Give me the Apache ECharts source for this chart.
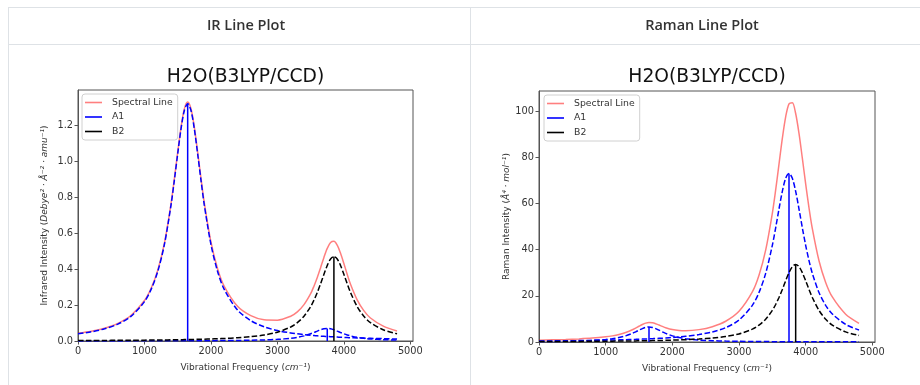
<!DOCTYPE html>
<html>
<head>
<meta charset="utf-8">
<script src="https://cdn.jsdelivr.net/npm/echarts@6/dist/echarts.min.js"></script>
<style>
  html, body { margin: 0; padding: 0; background: #fff; }
  #main { width: 920px; height: 385px; }
</style>
</head>
<body>
<div id="main"></div>
<script type="text/javascript">
    // wavenumber grid (cm^-1), denser around the bands
    var freq = [0, 200, 400, 600, 800, 1000, 1100, 1200, 1300, 1400, 1450, 1500, 1550, 1600, 1650, 1700,
        1750, 1800, 1850, 1900, 2000, 2100, 2200, 2400, 2600, 2800, 3000, 3200, 3300, 3400, 3500, 3550,
        3600, 3650, 3700, 3750, 3800, 3850, 3900, 3950, 4000, 4050, 4100, 4200, 4300, 4400, 4600, 4800];

    // IR curves
    var irSpectral = [0.043, 0.054, 0.071, 0.098, 0.143, 0.225, 0.293, 0.394, 0.544, 0.765, 0.903, 1.050,
        1.188, 1.291, 1.329, 1.292, 1.190, 1.052, 0.906, 0.769, 0.551, 0.402, 0.304, 0.193, 0.141, 0.118,
        0.116, 0.138, 0.162, 0.202, 0.263, 0.305, 0.353, 0.408, 0.465, 0.515, 0.548, 0.555, 0.533, 0.488,
        0.431, 0.371, 0.316, 0.229, 0.169, 0.128, 0.081, 0.056];
    var irA1a = [0.040, 0.051, 0.068, 0.094, 0.138, 0.219, 0.287, 0.387, 0.537, 0.757, 0.895, 1.041,
        1.180, 1.282, 1.320, 1.282, 1.180, 1.041, 0.895, 0.757, 0.537, 0.387, 0.287, 0.172, 0.113, 0.079,
        0.058, 0.045, 0.040, 0.035, 0.032, 0.030, 0.029, 0.027, 0.026, 0.025, 0.024, 0.023, 0.022, 0.021,
        0.020, 0.019, 0.018, 0.017, 0.016, 0.015, 0.013, 0.011];
    var irA1b = [0.0004, 0.0005, 0.0005, 0.0006, 0.0007, 0.0008, 0.0008, 0.0009, 0.0010, 0.0011, 0.0011,
        0.0011, 0.0012, 0.0013, 0.0013, 0.0014, 0.0014, 0.0015, 0.0016, 0.0017, 0.0019, 0.0021, 0.0024,
        0.0031, 0.0042, 0.0060, 0.0091, 0.0152, 0.0205, 0.0285, 0.0402, 0.0474, 0.0552, 0.0626, 0.0680,
        0.0700, 0.0680, 0.0626, 0.0552, 0.0474, 0.0402, 0.0338, 0.0285, 0.0205, 0.0152, 0.0116, 0.0073, 0.0050];
    var irB2 = [0.0026, 0.0030, 0.0033, 0.0037, 0.0042, 0.0048, 0.0052, 0.0055, 0.0060, 0.0065, 0.0068,
        0.0071, 0.0073, 0.0077, 0.0080, 0.0084, 0.0088, 0.0092, 0.0097, 0.0102, 0.0113, 0.0125, 0.0141,
        0.0181, 0.0240, 0.0333, 0.0490, 0.0780, 0.1022, 0.1379, 0.1913, 0.2271, 0.2696, 0.3185, 0.3708,
        0.4200, 0.4564, 0.4700, 0.4564, 0.4200, 0.3708, 0.3185, 0.2696, 0.1913, 0.1379, 0.1022, 0.0611, 0.0400];

    // Raman curves
    var ramanSpectral = [0.81, 0.94, 1.11, 1.34, 1.68, 2.23, 2.65, 3.24, 4.08, 5.29, 6.03, 6.82, 7.58,
        8.17, 8.44, 8.34, 7.94, 7.36, 6.76, 6.21, 5.40, 4.99, 4.89, 5.36, 6.64, 8.99, 13.29, 21.68, 28.92,
        39.75, 55.72, 65.85, 77.01, 88.15, 97.52, 103.15, 103.64, 98.95, 90.33, 79.60, 68.49, 58.13, 49.08,
        35.18, 25.81, 19.50, 12.05, 8.09];
    var ramanA1a = [0.20, 0.25, 0.33, 0.46, 0.68, 1.08, 1.41, 1.91, 2.65, 3.73, 4.41, 5.13, 5.81, 6.31,
        6.50, 6.31, 5.81, 5.13, 4.41, 3.73, 2.65, 1.91, 1.41, 0.85, 0.55, 0.39, 0.29, 0.22, 0.20, 0.17,
        0.16, 0.15, 0.14, 0.13, 0.13, 0.12, 0.12, 0.11, 0.11, 0.10, 0.10, 0.09, 0.09, 0.08, 0.08, 0.07, 0.06, 0.06];
    var ramanA1b = [0.43, 0.48, 0.54, 0.61, 0.70, 0.80, 0.86, 0.93, 1.01, 1.10, 1.14, 1.19, 1.25, 1.31,
        1.37, 1.43, 1.50, 1.58, 1.66, 1.75, 1.95, 2.19, 2.47, 3.22, 4.37, 6.22, 9.50, 15.88, 21.42, 29.72,
        41.88, 49.47, 57.59, 65.24, 70.89, 73.00, 70.89, 65.24, 57.59, 49.47, 41.88, 35.27, 29.72, 21.42,
        15.88, 12.12, 7.61, 5.18];
    var ramanB2 = [0.19, 0.21, 0.24, 0.27, 0.30, 0.34, 0.37, 0.40, 0.43, 0.46, 0.48, 0.50, 0.52, 0.55,
        0.58, 0.60, 0.63, 0.66, 0.69, 0.73, 0.81, 0.90, 1.01, 1.29, 1.72, 2.38, 3.50, 5.58, 7.31, 9.86,
        13.68, 16.23, 19.28, 22.77, 26.51, 30.03, 32.63, 33.60, 32.63, 30.03, 26.51, 22.77, 19.28, 13.68,
        9.86, 7.31, 4.37, 2.86];

    // normal modes (sticks)
    var modeFreq = [1650, 3750, 3850];
    var modeSym = ['A1', 'A1', 'B2'];
    var irStick = [1.32, 0.07, 0.47];
    var ramanStick = [6.5, 73, 33.6];

    var xTicks = [0, 1000, 2000, 3000, 4000, 5000];
    var irYTicks = [0, 0.2, 0.4, 0.6, 0.8, 1.0, 1.2];
    var ramanYTicks = [0, 20, 40, 60, 80, 100];

    var symColor = { 'A1': '#0000ff', 'B2': '#000000' };
    var spectralColor = 'rgba(255,0,0,0.5)';
    var font = 'DejaVu Sans';

    var myChart = echarts.init(document.getElementById('main'));

    function pairs(ys) {
        return freq.map(function (f, i) { return [f, ys[i]]; });
    }

    function buildSeries(idx, spectral, comps, sticks) {
        var out = [{
            name: 'Spectral Line',
            type: 'line',
            xAxisIndex: idx, yAxisIndex: idx,
            showSymbol: false, symbol: 'none',
            smooth: 0.3,
            lineStyle: { color: spectralColor, width: 1.5 },
            itemStyle: { color: spectralColor },
            data: pairs(spectral)
        }];
        for (var k = 0; k < modeFreq.length; k++) {
            var c = symColor[modeSym[k]];
            out.push({
                name: modeSym[k],
                type: 'line',
                xAxisIndex: idx, yAxisIndex: idx,
                showSymbol: false, symbol: 'none',
                lineStyle: { color: c, width: 1.5 },
                itemStyle: { color: c },
                data: [[modeFreq[k], 0], [modeFreq[k], sticks[k]]]
            });
            out.push({
                name: modeSym[k],
                type: 'line',
                xAxisIndex: idx, yAxisIndex: idx,
                showSymbol: false, symbol: 'none',
                smooth: 0.3,
                lineStyle: { color: c, width: 1.5, type: [5.5, 2.4] },
                itemStyle: { color: c },
                data: pairs(comps[k])
            });
        }
        return out;
    }

    var nameRich = {
        n: { fontFamily: font, fontSize: 9, color: '#333' },
        i: { fontFamily: font, fontSize: 9, color: '#333', fontStyle: 'italic' }
    };

    function xAxisFor(idx) {
        return {
            type: 'value', gridIndex: idx, min: 0, max: 5040,
            name: '{n|Vibrational Frequency (}{i|cm⁻¹}{n|)}',
            nameLocation: 'middle', nameGap: 22,
            nameTextStyle: { rich: nameRich },
            axisLine: { show: true, onZero: false, lineStyle: { color: '#555', width: 1 } },
            axisTick: { show: true, length: 3.5, customValues: xTicks, lineStyle: { color: '#555' } },
            axisLabel: { customValues: xTicks, color: '#333', fontFamily: font, fontSize: 9.8, margin: 5,
                formatter: function (v) { return String(v); } },
            splitLine: { show: false }
        };
    }

    function yAxisFor(idx, max, ticks, title, gap, fmt) {
        return {
            type: 'value', gridIndex: idx, min: 0, max: max,
            name: title,
            nameLocation: 'middle', nameGap: gap,
            nameTextStyle: { rich: nameRich },
            axisLine: { show: true, onZero: false, lineStyle: { color: '#555', width: 1 } },
            axisTick: { show: true, length: 3.5, customValues: ticks, lineStyle: { color: '#555' } },
            axisLabel: { customValues: ticks, color: '#333', fontFamily: font, fontSize: 9.8, margin: 5,
                formatter: fmt },
            splitLine: { show: false }
        };
    }

    function legendFor(left, top) {
        return {
            data: ['Spectral Line', 'A1', 'B2'],
            orient: 'vertical',
            left: left, top: top,
            icon: 'rect', itemWidth: 17, itemHeight: 1.6, itemGap: 5.5,
            padding: [4, 5, 4, 3],
            backgroundColor: '#fff',
            borderColor: '#d0d0d0', borderWidth: 1, borderRadius: 3,
            selectedMode: false,
            textStyle: { fontFamily: font, fontSize: 9.3, color: '#333', padding: [0, 0, 0, 5] }
        };
    }

    var border = '#dee2e6';
    var headFont = '600 14.5px "Open Sans"';

    myChart.setOption({
        animation: false,
        grid: [
            { left: 78, top: 90, width: 335, height: 251, show: true, borderColor: '#555', borderWidth: 1 },
            { left: 539, top: 91, width: 336, height: 251, show: true, borderColor: '#555', borderWidth: 1 }
        ],
        legend: [legendFor(82, 94), legendFor(544, 95)],
        xAxis: [xAxisFor(0), xAxisFor(1)],
        yAxis: [
            yAxisFor(0, 1.396, irYTicks,
                '{n|Infrared Intensity (}{i|Debye² · Å⁻² · amu⁻¹}{n|)}', 29,
                function (v) { return v.toFixed(1); }),
            yAxisFor(1, 108.7, ramanYTicks,
                '{n|Raman Intensity (}{i|Å⁴ · mol⁻¹}{n|)}', 24,
                function (v) { return String(v); })
        ],
        graphic: [
            { type: 'line', silent: true, shape: { x1: 8, y1: 7.5, x2: 920, y2: 7.5 }, style: { stroke: border, lineWidth: 1 } },
            { type: 'line', silent: true, shape: { x1: 8, y1: 44.5, x2: 920, y2: 44.5 }, style: { stroke: border, lineWidth: 1 } },
            { type: 'line', silent: true, shape: { x1: 8.5, y1: 7, x2: 8.5, y2: 385 }, style: { stroke: border, lineWidth: 1 } },
            { type: 'line', silent: true, shape: { x1: 470.5, y1: 7, x2: 470.5, y2: 385 }, style: { stroke: border, lineWidth: 1 } },
            { type: 'text', x: 246, y: 26, style: { text: 'IR Line Plot', fill: '#333', font: headFont, textAlign: 'center', textVerticalAlign: 'middle' } },
            { type: 'text', x: 702, y: 26, style: { text: 'Raman Line Plot', fill: '#333', font: headFont, textAlign: 'center', textVerticalAlign: 'middle' } },
            { type: 'text', x: 245.5, y: 77, style: { text: 'H2O(B3LYP/CCD)', fill: '#111', font: '18.7px "DejaVu Sans"', textAlign: 'center', textVerticalAlign: 'middle' } },
            { type: 'text', x: 707, y: 77, style: { text: 'H2O(B3LYP/CCD)', fill: '#111', font: '18.7px "DejaVu Sans"', textAlign: 'center', textVerticalAlign: 'middle' } }
        ],
        series: buildSeries(0, irSpectral, [irA1a, irA1b, irB2], irStick)
            .concat(buildSeries(1, ramanSpectral, [ramanA1a, ramanA1b, ramanB2], ramanStick))
    });
</script>
</body>
</html>
